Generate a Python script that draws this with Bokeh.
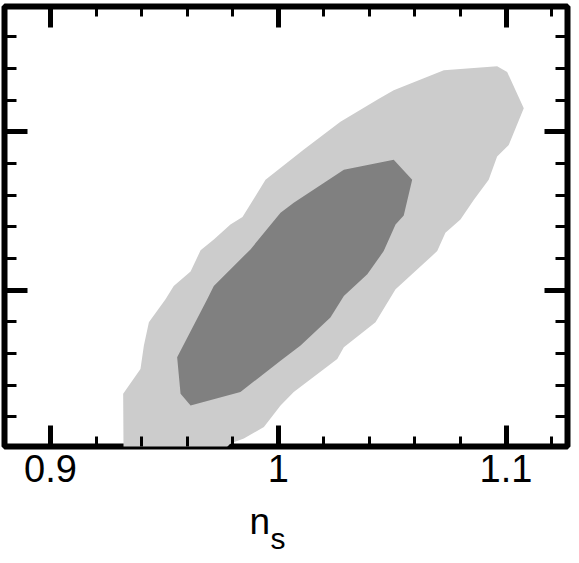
from bokeh.plotting import figure
from bokeh.models import Range1d, LinearAxis, FixedTicker, CustomJSTickFormatter, Title
from bokeh.embed import file_html
from bokeh.resources import INLINE

# ---- data -------------------------------------------------------------
x_major = [0.9, 1.0, 1.1]
x_minor = [0.88, 0.92, 0.94, 0.96, 0.98, 1.02, 1.04, 1.06, 1.08, 1.12]
y_major = [1.0, 2.0]
y_minor = [0.2, 0.4, 0.6, 0.8, 1.2, 1.4, 1.6, 1.8, 2.2, 2.4, 2.6]

# outer (95%) contour
outer_x = [0.9321, 0.9319, 0.9395, 0.9410, 0.9432, 0.9505, 0.9541, 0.9615, 0.9659,
           0.9717, 0.9790, 0.9843, 0.9944, 1.0111, 1.0273, 1.0440, 1.0507, 1.0727,
           1.0961, 1.1005, 1.1078, 1.1012, 1.0961, 1.0924, 1.0859, 1.0800, 1.0734,
           1.0698, 1.0515, 1.0427, 1.0288, 1.0259, 1.0068, 1.0010, 0.9937, 0.9849,
           0.9790, 0.9700]
outer_y = [-0.10, 0.346, 0.503, 0.650, 0.797, 0.943, 1.027, 1.119, 1.252,
           1.321, 1.415, 1.462, 1.698, 1.887, 2.065, 2.208, 2.264, 2.390,
           2.415, 2.379, 2.149, 1.918, 1.845, 1.698, 1.572, 1.447, 1.363,
           1.247, 1.006, 0.797, 0.640, 0.566, 0.357, 0.272, 0.136, 0.063,
           0.031, -0.10]

# inner (68%) contour
inner_x = [0.9556, 0.9571, 0.9615, 0.9834, 1.0010, 1.0098, 1.0229, 1.0288, 1.0391,
           1.0463, 1.0515, 1.0551, 1.0588, 1.0507, 1.0288, 1.0068, 1.0010, 0.9878,
           0.9717, 0.9688]
inner_y = [0.577, 0.346, 0.272, 0.357, 0.555, 0.650, 0.828, 0.964, 1.101,
           1.247, 1.415, 1.472, 1.698, 1.824, 1.761, 1.552, 1.489, 1.258,
           1.027, 0.943]

x_title = "n"
x_title_sub = "s"

x_lo, x_hi = 0.8798, 1.1270
y_lo, y_hi = 0.0126, 2.7925

# ---- figure -----------------------------------------------------------
p = figure(width=571, height=555,
           x_range=Range1d(x_lo, x_hi), y_range=Range1d(y_lo, y_hi),
           output_backend="svg", toolbar_location=None,
           x_axis_location=None, y_axis_location=None,
           min_border_left=4, min_border_right=4,
           min_border_top=6, min_border_bottom=107)
p.background_fill_color = "white"
p.border_fill_color = "white"
p.outline_line_color = "black"
p.outline_line_width = 6
p.grid.visible = False

p.patch(outer_x, outer_y, fill_color="#cccccc", line_color=None)
p.patch(inner_x, inner_y, fill_color="#808080", line_color=None)


def make_axis(major, minor, tick_in, minor_in, labels, fixed=None):
    ax = LinearAxis(ticker=FixedTicker(ticks=major, minor_ticks=minor),
                    axis_line_color=None,
                    major_tick_in=tick_in, major_tick_out=0,
                    minor_tick_in=minor_in, minor_tick_out=0,
                    major_tick_line_width=5, minor_tick_line_width=3,
                    major_tick_line_color="black", minor_tick_line_color="black")
    if labels:
        ax.formatter = CustomJSTickFormatter(code="return String(tick)")
        ax.major_label_text_font = "Liberation Sans"
        ax.major_label_text_font_size = "38px"
        ax.major_label_text_color = "black"
        ax.major_label_standoff = 8
    else:
        ax.formatter = CustomJSTickFormatter(code="return ''")
        ax.major_label_standoff = 0
        ax.fixed_location = fixed
    return ax


p.add_layout(make_axis(x_major, x_minor, 21, 10, True), "below")
p.add_layout(make_axis(x_major, x_minor, 21, 10, False, y_hi), "above")
p.add_layout(make_axis(y_major, y_minor, 23, 12, False, x_lo), "left")
p.add_layout(make_axis(y_major, y_minor, 23, 12, False, x_hi), "right")

# axis title n_s  (n, then subscript s below and to the right)
p.add_layout(Title(text=x_title, align="left", offset=245, standoff=28,
                   text_font="Liberation Sans", text_font_size="37px",
                   text_font_style="normal", text_color="black"), "below")
p.add_layout(Title(text=x_title_sub, align="left", offset=266, standoff=-68,
                   vertical_align="top",
                   text_font="Liberation Sans", text_font_size="30px",
                   text_font_style="normal", text_color="black"), "below")

open("out.html", "w").write(file_html(p, INLINE))
